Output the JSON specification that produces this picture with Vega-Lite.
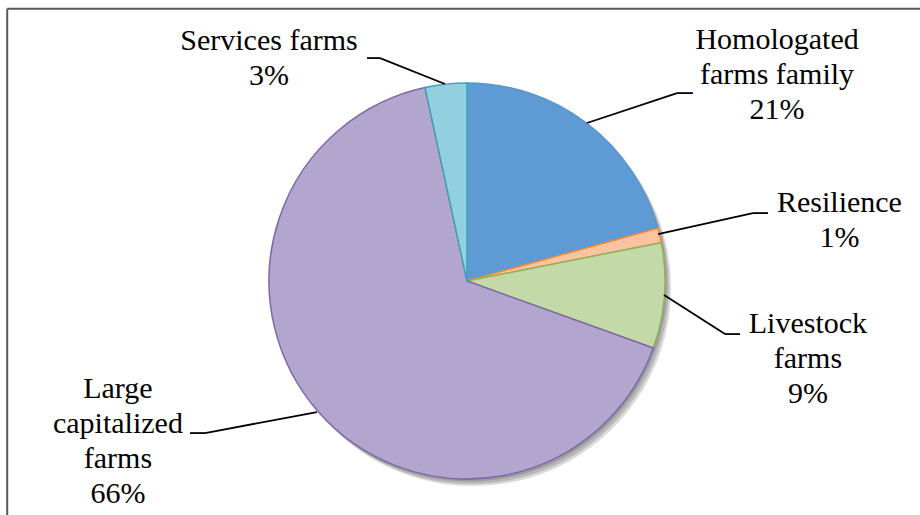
{
  "$schema": "https://vega.github.io/schema/vega-lite/v6.json",
  "width": 920,
  "height": 515,
  "autosize": "none",
  "padding": 0,
  "background": "#ffffff",
  "config": {"view": {"stroke": null}},
  "data": {
    "values": [
      {"category": "Homologated farms family", "value": 20.7, "order": 1, "label": "Homologated\nfarms family\n21%"},
      {"category": "Resilience", "value": 1.2, "order": 2, "label": "Resilience\n1%"},
      {"category": "Livestock farms", "value": 8.6, "order": 3, "label": "Livestock\nfarms\n9%"},
      {"category": "Large capitalized farms", "value": 66.1, "order": 4, "label": "Large\ncapitalized\nfarms\n66%"},
      {"category": "Services farms", "value": 3.4, "order": 5, "label": "Services farms\n3%"}
    ]
  },
  "layer": [
    {
      "data": {"values": [{}]},
      "mark": {"type": "rule", "color": "#595959", "strokeWidth": 2},
      "encoding": {
        "x": {"datum": -2.3222, "type": "quantitative", "scale": {"domain": [-2.3586, 2.2879], "nice": false, "zero": false}, "axis": null},
        "x2": {"datum": 2.2879},
        "y": {"datum": 1.3753, "type": "quantitative", "scale": {"domain": [-1.1818, 1.4192], "nice": false, "zero": false}, "axis": null}
      }
    },
    {
      "data": {"values": [{}]},
      "mark": {"type": "rule", "color": "#595959", "strokeWidth": 2},
      "encoding": {
        "x": {"datum": -2.3222, "type": "quantitative", "scale": {"domain": [-2.3586, 2.2879], "nice": false, "zero": false}, "axis": null},
        "y": {"datum": 1.3753, "type": "quantitative", "scale": {"domain": [-1.1818, 1.4192], "nice": false, "zero": false}, "axis": null},
        "y2": {"datum": -1.1818}
      }
    },
    {
      "data": {"values": [{}]},
      "mark": {"type": "arc", "outerRadius": 198, "theta": 0, "theta2": 6.2832, "fill": "#000000", "fillOpacity": 0.15},
      "encoding": {
        "x": {"datum": 0.0303, "type": "quantitative", "scale": {"domain": [-2.3586, 2.2879], "nice": false, "zero": false}, "axis": null},
        "y": {"datum": -0.0354, "type": "quantitative", "scale": {"domain": [-1.1818, 1.4192], "nice": false, "zero": false}, "axis": null}
      }
    },
    {
      "data": {"values": [{}]},
      "mark": {"type": "arc", "outerRadius": 198, "theta": 0, "theta2": 6.2832, "fill": "#000000", "fillOpacity": 0.15},
      "encoding": {
        "x": {"datum": 0.0202, "type": "quantitative", "scale": {"domain": [-2.3586, 2.2879], "nice": false, "zero": false}, "axis": null},
        "y": {"datum": -0.0253, "type": "quantitative", "scale": {"domain": [-1.1818, 1.4192], "nice": false, "zero": false}, "axis": null}
      }
    },
    {
      "data": {"values": [{}]},
      "mark": {"type": "arc", "outerRadius": 198, "theta": 0, "theta2": 6.2832, "fill": "#000000", "fillOpacity": 0.15},
      "encoding": {
        "x": {"datum": 0.0101, "type": "quantitative", "scale": {"domain": [-2.3586, 2.2879], "nice": false, "zero": false}, "axis": null},
        "y": {"datum": -0.0126, "type": "quantitative", "scale": {"domain": [-1.1818, 1.4192], "nice": false, "zero": false}, "axis": null}
      }
    },
    {
      "mark": {"type": "arc", "outerRadius": 198, "strokeWidth": 1.5},
      "encoding": {
        "x": {"datum": 0, "type": "quantitative", "scale": {"domain": [-2.3586, 2.2879], "nice": false, "zero": false}, "axis": null},
        "y": {"datum": 0, "type": "quantitative", "scale": {"domain": [-1.1818, 1.4192], "nice": false, "zero": false}, "axis": null},
        "theta": {"field": "value", "type": "quantitative", "stack": true},
        "order": {"field": "order", "type": "quantitative"},
        "color": {
          "field": "category", "type": "nominal", "legend": null,
          "scale": {
            "domain": ["Homologated farms family", "Resilience", "Livestock farms", "Large capitalized farms", "Services farms"],
            "range": ["#5E9BD4", "#FBC49E", "#C4D9A8", "#B3A6CE", "#92D0E0"]
          }
        },
        "stroke": {
          "field": "category", "type": "nominal", "legend": null,
          "scale": {
            "domain": ["Homologated farms family", "Resilience", "Livestock farms", "Large capitalized farms", "Services farms"],
            "range": ["#5A95CF", "#F38B33", "#8DB35C", "#7E68A6", "#3FA4BA"]
          }
        }
      }
    },
    {
      "data": {"values": [{}]},
      "mark": {"type": "rule", "color": "#000000", "strokeWidth": 1.8},
      "encoding": {
        "x": {"datum": 0.606, "type": "quantitative", "scale": {"domain": [-2.3586, 2.2879], "nice": false, "zero": false}, "axis": null},
        "y": {"datum": 0.798, "type": "quantitative", "scale": {"domain": [-1.1818, 1.4192], "nice": false, "zero": false}, "axis": null},
        "x2": {"datum": 1.061},
        "y2": {"datum": 0.949}
      }
    },
    {
      "data": {"values": [{}]},
      "mark": {"type": "rule", "color": "#000000", "strokeWidth": 1.8},
      "encoding": {
        "x": {"datum": 1.061, "type": "quantitative", "scale": {"domain": [-2.3586, 2.2879], "nice": false, "zero": false}, "axis": null},
        "y": {"datum": 0.949, "type": "quantitative", "scale": {"domain": [-1.1818, 1.4192], "nice": false, "zero": false}, "axis": null},
        "x2": {"datum": 1.141},
        "y2": {"datum": 0.949}
      }
    },
    {
      "data": {"values": [{}]},
      "mark": {"type": "rule", "color": "#000000", "strokeWidth": 1.8},
      "encoding": {
        "x": {"datum": 0.965, "type": "quantitative", "scale": {"domain": [-2.3586, 2.2879], "nice": false, "zero": false}, "axis": null},
        "y": {"datum": 0.237, "type": "quantitative", "scale": {"domain": [-1.1818, 1.4192], "nice": false, "zero": false}, "axis": null},
        "x2": {"datum": 1.444},
        "y2": {"datum": 0.343}
      }
    },
    {
      "data": {"values": [{}]},
      "mark": {"type": "rule", "color": "#000000", "strokeWidth": 1.8},
      "encoding": {
        "x": {"datum": 1.444, "type": "quantitative", "scale": {"domain": [-2.3586, 2.2879], "nice": false, "zero": false}, "axis": null},
        "y": {"datum": 0.343, "type": "quantitative", "scale": {"domain": [-1.1818, 1.4192], "nice": false, "zero": false}, "axis": null},
        "x2": {"datum": 1.520},
        "y2": {"datum": 0.343}
      }
    },
    {
      "data": {"values": [{}]},
      "mark": {"type": "rule", "color": "#000000", "strokeWidth": 1.8},
      "encoding": {
        "x": {"datum": 0.995, "type": "quantitative", "scale": {"domain": [-2.3586, 2.2879], "nice": false, "zero": false}, "axis": null},
        "y": {"datum": -0.071, "type": "quantitative", "scale": {"domain": [-1.1818, 1.4192], "nice": false, "zero": false}, "axis": null},
        "x2": {"datum": 1.303},
        "y2": {"datum": -0.268}
      }
    },
    {
      "data": {"values": [{}]},
      "mark": {"type": "rule", "color": "#000000", "strokeWidth": 1.8},
      "encoding": {
        "x": {"datum": 1.303, "type": "quantitative", "scale": {"domain": [-2.3586, 2.2879], "nice": false, "zero": false}, "axis": null},
        "y": {"datum": -0.268, "type": "quantitative", "scale": {"domain": [-1.1818, 1.4192], "nice": false, "zero": false}, "axis": null},
        "x2": {"datum": 1.379},
        "y2": {"datum": -0.268}
      }
    },
    {
      "data": {"values": [{}]},
      "mark": {"type": "rule", "color": "#000000", "strokeWidth": 1.8},
      "encoding": {
        "x": {"datum": -0.758, "type": "quantitative", "scale": {"domain": [-2.3586, 2.2879], "nice": false, "zero": false}, "axis": null},
        "y": {"datum": -0.662, "type": "quantitative", "scale": {"domain": [-1.1818, 1.4192], "nice": false, "zero": false}, "axis": null},
        "x2": {"datum": -1.323},
        "y2": {"datum": -0.768}
      }
    },
    {
      "data": {"values": [{}]},
      "mark": {"type": "rule", "color": "#000000", "strokeWidth": 1.8},
      "encoding": {
        "x": {"datum": -1.323, "type": "quantitative", "scale": {"domain": [-2.3586, 2.2879], "nice": false, "zero": false}, "axis": null},
        "y": {"datum": -0.768, "type": "quantitative", "scale": {"domain": [-1.1818, 1.4192], "nice": false, "zero": false}, "axis": null},
        "x2": {"datum": -1.399},
        "y2": {"datum": -0.768}
      }
    },
    {
      "data": {"values": [{}]},
      "mark": {"type": "rule", "color": "#000000", "strokeWidth": 1.8},
      "encoding": {
        "x": {"datum": -0.111, "type": "quantitative", "scale": {"domain": [-2.3586, 2.2879], "nice": false, "zero": false}, "axis": null},
        "y": {"datum": 0.995, "type": "quantitative", "scale": {"domain": [-1.1818, 1.4192], "nice": false, "zero": false}, "axis": null},
        "x2": {"datum": -0.439},
        "y2": {"datum": 1.126}
      }
    },
    {
      "data": {"values": [{}]},
      "mark": {"type": "rule", "color": "#000000", "strokeWidth": 1.8},
      "encoding": {
        "x": {"datum": -0.439, "type": "quantitative", "scale": {"domain": [-2.3586, 2.2879], "nice": false, "zero": false}, "axis": null},
        "y": {"datum": 1.126, "type": "quantitative", "scale": {"domain": [-1.1818, 1.4192], "nice": false, "zero": false}, "axis": null},
        "x2": {"datum": -0.505},
        "y2": {"datum": 1.126}
      }
    },
    {
      "transform": [{"filter": "datum.category === 'Homologated farms family'"}],
      "mark": {"type": "text", "font": "Liberation Serif", "fontSize": 30, "lineHeight": 35, "lineBreak": "\n", "align": "center", "baseline": "alphabetic", "color": "#000000"},
      "encoding": {
        "x": {"datum": 1.566, "type": "quantitative", "scale": {"domain": [-2.3586, 2.2879], "nice": false, "zero": false}, "axis": null},
        "y": {"datum": 1.172, "type": "quantitative", "scale": {"domain": [-1.1818, 1.4192], "nice": false, "zero": false}, "axis": null},
        "text": {"field": "label", "type": "nominal"}
      }
    },
    {
      "transform": [{"filter": "datum.category === 'Resilience'"}],
      "mark": {"type": "text", "font": "Liberation Serif", "fontSize": 30, "lineHeight": 35, "lineBreak": "\n", "align": "center", "baseline": "alphabetic", "color": "#000000"},
      "encoding": {
        "x": {"datum": 1.881, "type": "quantitative", "scale": {"domain": [-2.3586, 2.2879], "nice": false, "zero": false}, "axis": null},
        "y": {"datum": 0.348, "type": "quantitative", "scale": {"domain": [-1.1818, 1.4192], "nice": false, "zero": false}, "axis": null},
        "text": {"field": "label", "type": "nominal"}
      }
    },
    {
      "transform": [{"filter": "datum.category === 'Livestock farms'"}],
      "mark": {"type": "text", "font": "Liberation Serif", "fontSize": 30, "lineHeight": 35, "lineBreak": "\n", "align": "center", "baseline": "alphabetic", "color": "#000000"},
      "encoding": {
        "x": {"datum": 1.722, "type": "quantitative", "scale": {"domain": [-2.3586, 2.2879], "nice": false, "zero": false}, "axis": null},
        "y": {"datum": -0.263, "type": "quantitative", "scale": {"domain": [-1.1818, 1.4192], "nice": false, "zero": false}, "axis": null},
        "text": {"field": "label", "type": "nominal"}
      }
    },
    {
      "transform": [{"filter": "datum.category === 'Large capitalized farms'"}],
      "mark": {"type": "text", "font": "Liberation Serif", "fontSize": 30, "lineHeight": 35, "lineBreak": "\n", "align": "center", "baseline": "alphabetic", "color": "#000000"},
      "encoding": {
        "x": {"datum": -1.763, "type": "quantitative", "scale": {"domain": [-2.3586, 2.2879], "nice": false, "zero": false}, "axis": null},
        "y": {"datum": -0.591, "type": "quantitative", "scale": {"domain": [-1.1818, 1.4192], "nice": false, "zero": false}, "axis": null},
        "text": {"field": "label", "type": "nominal"}
      }
    },
    {
      "transform": [{"filter": "datum.category === 'Services farms'"}],
      "mark": {"type": "text", "font": "Liberation Serif", "fontSize": 30, "lineHeight": 35, "lineBreak": "\n", "align": "center", "baseline": "alphabetic", "color": "#000000"},
      "encoding": {
        "x": {"datum": -1.0, "type": "quantitative", "scale": {"domain": [-2.3586, 2.2879], "nice": false, "zero": false}, "axis": null},
        "y": {"datum": 1.167, "type": "quantitative", "scale": {"domain": [-1.1818, 1.4192], "nice": false, "zero": false}, "axis": null},
        "text": {"field": "label", "type": "nominal"}
      }
    }
  ]
}
